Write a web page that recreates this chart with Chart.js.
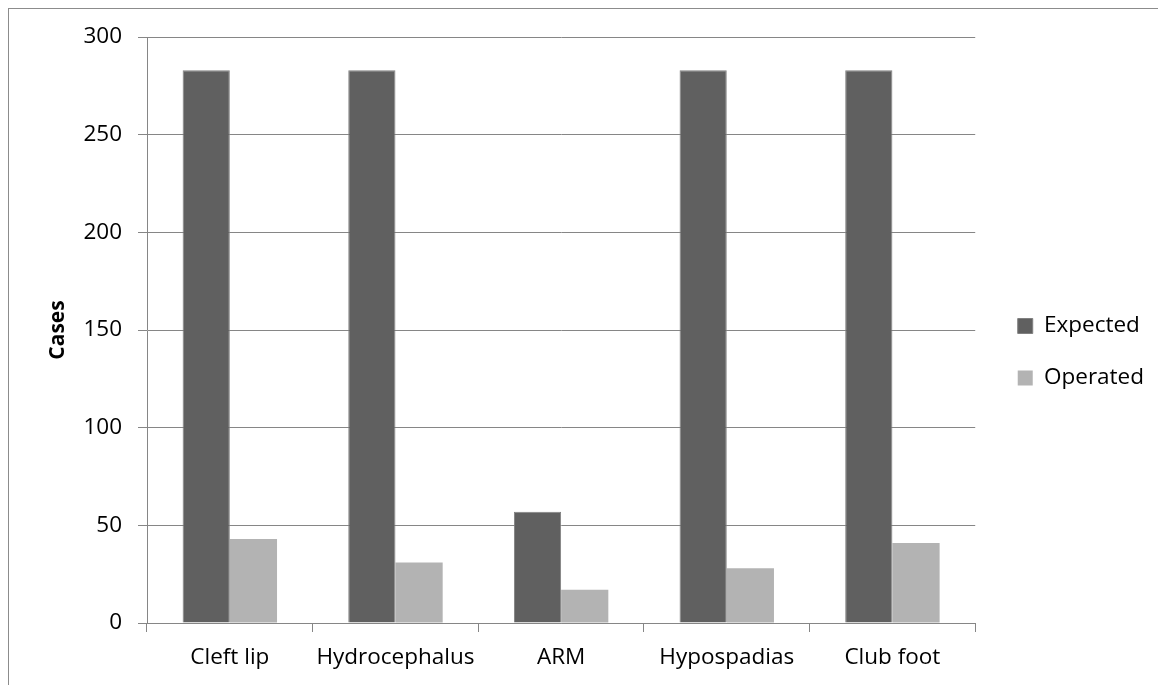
<!DOCTYPE html>
<html lang="en">
  <head>
    <meta charset="UTF-8" />
    <title>Expected vs operated cases</title>
    <script src="https://cdn.jsdelivr.net/npm/chart.js"></script>
    <style>
      body {
        margin: 0;
        background: #ffffff;
      }
      .wrap {
        position: relative;
        width: 1158px;
        height: 685px;
        overflow: hidden;
      }
      .frame {
        position: absolute;
        left: 8px;
        top: 8px;
        width: 1200px;
        height: 700px;
        border-top: 1px solid #8c8c8c;
        border-left: 1px solid #8c8c8c;
      }
      canvas {
        position: absolute;
        left: 0;
        top: 0;
      }
    </style>
  </head>
  <body>
    <div class="wrap">
      <div class="frame"></div>
      <canvas id="chart" width="1158" height="685"></canvas>
    </div>

    <script>
      const categories = ['Cleft lip', 'Hydrocephalus', 'ARM', 'Hypospadias', 'Club foot']
      const expected = [283, 283, 57, 283, 283]
      const operated = [43, 31, 17, 28, 41]
      const yTicks = [0, 50, 100, 150, 200, 250, 300]

      const font = { family: "'Open Sans', sans-serif", size: 22.5 }
      const gridColor = '#868686'

      // nudge the legend a bit to the right / up so it sits like the original
      const legendShift = {
        id: 'legendShift',
        afterLayout(chart) {
          const lg = chart.legend
          if (!lg) return
          lg.left += 13
          lg.right += 13
          lg.top -= 9
          lg.bottom -= 9
        },
      }

      new Chart(document.getElementById('chart'), {
        type: 'bar',
        data: {
          labels: categories,
          datasets: [
            {
              label: 'Expected',
              data: expected,
              backgroundColor: '#606060',
              borderColor: '#808080',
              borderWidth: 1,
            },
            {
              label: 'Operated',
              data: operated,
              backgroundColor: '#b3b3b3',
              borderWidth: 0,
            },
          ],
        },
        plugins: [legendShift],
        options: {
          responsive: false,
          animation: false,
          categoryPercentage: 0.57,
          barPercentage: 1.0,
          layout: {
            padding: { left: 10, top: 37, right: 17, bottom: 0 },
          },
          plugins: {
            tooltip: { enabled: false },
            legend: {
              position: 'right',
              labels: {
                color: '#000',
                font: font,
                boxWidth: 15,
                boxHeight: 15,
                padding: 29.5,
              },
            },
          },
          scales: {
            x: {
              grid: {
                offset: true,
                drawOnChartArea: false,
                drawTicks: true,
                tickLength: 9,
                color: gridColor,
              },
              border: { color: gridColor },
              ticks: { color: '#000', font: font, padding: 12, maxRotation: 0 },
              afterFit: (scale) => {
                scale.height = 62
              },
            },
            y: {
              min: 0,
              max: 300,
              afterBuildTicks: (scale) => {
                scale.ticks = yTicks.map((v) => ({ value: v }))
              },
              grid: { color: gridColor, tickLength: 9 },
              border: { color: gridColor },
              ticks: { color: '#000', font: font, padding: 16 },
              title: {
                display: true,
                text: 'Cases',
                color: '#000',
                font: { family: font.family, size: 21, weight: 'bold' },
                padding: { top: 35, bottom: 0 },
              },
              afterFit: (scale) => {
                scale.width = 137
              },
            },
          },
        },
      })
    </script>
  </body>
</html>
